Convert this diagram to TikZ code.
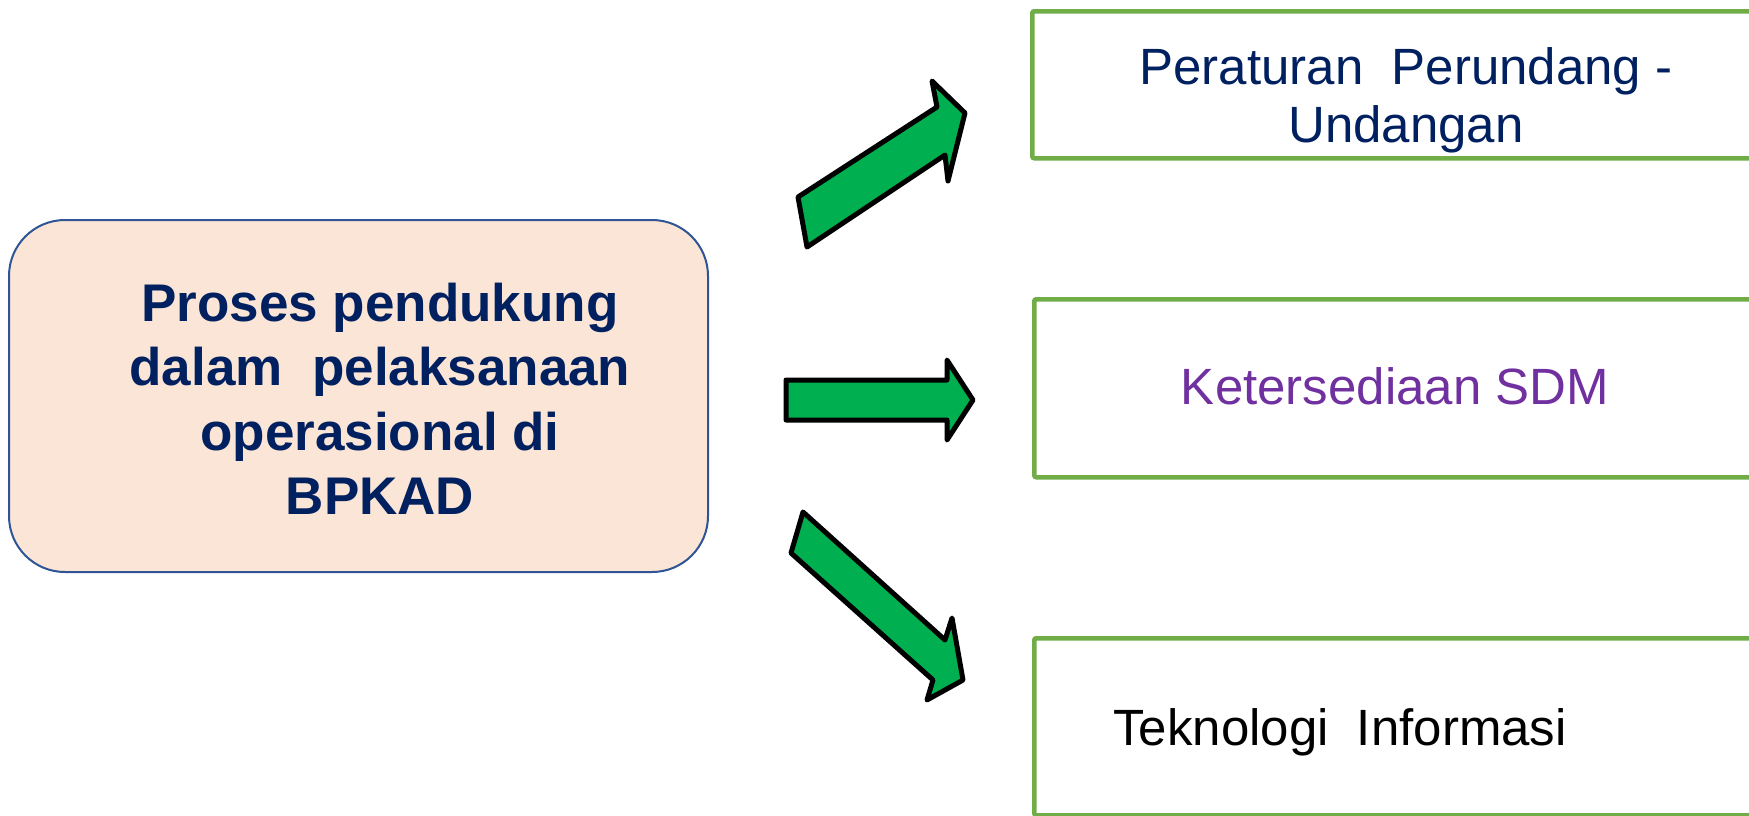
\documentclass[tikz,border=0pt]{standalone}
\usepackage{fontspec}
\setmainfont{Liberation Sans}
\definecolor{navy}{RGB}{0,32,96}
\definecolor{purp}{RGB}{112,48,160}
\definecolor{boxgreen}{RGB}{112,173,71}
\definecolor{arrowgreen}{RGB}{0,176,80}
\definecolor{peach}{RGB}{251,229,214}
\definecolor{bordblue}{RGB}{47,85,151}
\tikzset{
  mainbox/.style={draw=bordblue, line width=2pt, fill=peach, rounded corners=56pt,
    minimum width=699pt, minimum height=352pt, inner sep=0pt},
  greenbox/.style={draw=boxgreen, line width=4.5pt, rounded corners=2pt, inner sep=0pt},
  blockarrow/.style={draw=black, fill=arrowgreen, line width=5pt, line join=round},
  lefttext/.style={font=\fontsize{53}{64.5}\selectfont\bfseries, text=navy, align=center, inner sep=0pt},
  righttext/.style={font=\fontsize{51}{58}\selectfont, align=center, inner sep=0pt}
}
\begin{document}
\begin{tikzpicture}[x=1pt,y=-1pt]
\clip (0,0) rectangle (1749,815);
\fill[white] (0,0) rectangle (1749,815);
% left rounded box
\node[mainbox] (main) at (358.5,396) {};
\node[lefttext, anchor=north] (maintext) at (380,282.5)
  {Proses pendukung\\dalam\ \ pelaksanaan\\operasional di\\BPKAD};
% right boxes (cut by the right edge)
\node[greenbox, minimum width=740pt, minimum height=147pt, anchor=north west] (b1) at (1030,9) {};
\node[greenbox, minimum width=740pt, minimum height=178pt, anchor=north west] (b2) at (1032,297) {};
\node[greenbox, minimum width=740pt, minimum height=177pt, anchor=north west] (b3) at (1032,636) {};
\node[righttext, text=navy, anchor=north] (t1) at (1406,47.5)
  {Peraturan\ \ Perundang -\\Undangan};
\node[righttext, text=purp, anchor=base] (t2) at (1395,404) {Ketersediaan SDM};
\node[righttext, text=black, anchor=base] (t3) at (1340,745) {Teknologi\ \ Informasi};
% block arrows
\draw[blockarrow] (798,197) -- (937,107) -- (932,81) -- (965,113) -- (948,181) -- (945,155) -- (807,247) -- cycle;
\draw[blockarrow] (786,380) -- (947,380) -- (947,360) -- (973,400) -- (947,440) -- (947,420) -- (786,420) -- cycle;
\draw[blockarrow] (803,512) -- (945,640) -- (952,618) -- (963,680) -- (927,700) -- (933,680) -- (791,553) -- cycle;
\end{tikzpicture}
\end{document}
